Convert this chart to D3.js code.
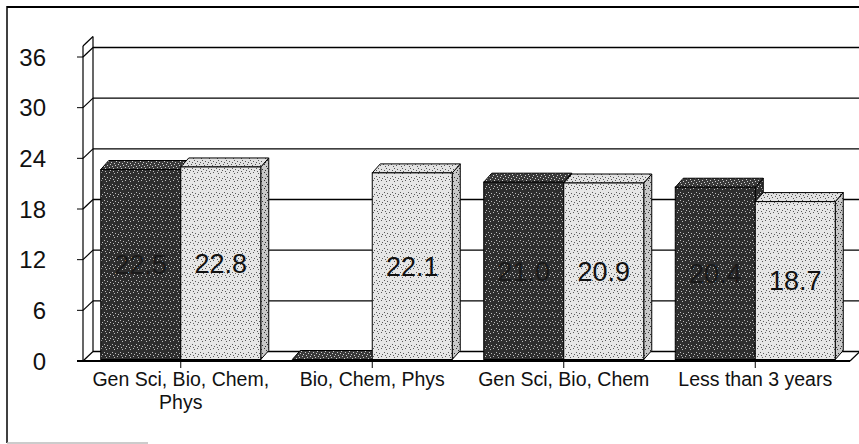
<!DOCTYPE html>
<html><head><meta charset="utf-8">
<script src="https://cdn.jsdelivr.net/npm/d3@7"></script>
<style>
html,body{margin:0;padding:0;background:#fff;}
svg{display:block;font-family:"Liberation Sans",Arial,sans-serif;}
</style></head>
<body>
<svg id="c" width="859" height="444"></svg>
<script>
const categories = ["Gen Sci, Bio, Chem, Phys", "Bio, Chem, Phys", "Gen Sci, Bio, Chem", "Less than 3 years"];
const seriesDark = [22.5, 0, 21.0, 20.4];
const seriesLight = [22.8, 22.1, 20.9, 18.7];
const yTicks = [0, 6, 12, 18, 24, 30, 36];

const svg = d3.select("#c");
const W = 859, H = 444;

// geometry
const wallDx = 10, wallDy = -9.5;
const barDx = 8, barDy = -9;
const axisX = 83;
const floorRight = 850;
const y = d3.scaleLinear().domain([0, 36]).range([361, 57]);
const x = d3.scaleBand().domain(categories).range([85, 851]).paddingInner(0).paddingOuter(0);
const barW = 80;
const yTop = 37.3;

// patterns (stipple)
const defs = svg.append("defs");
function stipple(id, base, dot, density, seed) {
  const size = 8;
  const p = defs.append("pattern").attr("id", id).attr("patternUnits", "userSpaceOnUse")
    .attr("width", size).attr("height", size);
  p.append("rect").attr("width", size).attr("height", size).attr("fill", base);
  const pts = [[0,0],[3,1],[6,2],[1,3],[5,4],[2,5],[7,6],[4,7],[0,6],[6,7],[2,2],[7,3],[4,4],[1,1],[5,6],[3,7]];
  pts.slice(0, density).forEach(([a,b]) => {
    p.append("rect").attr("x", (a + seed) % size).attr("y", b).attr("width", 1).attr("height", 1).attr("fill", dot);
  });
}
stipple("pDark", "#2e2e2e", "#bdbdbd", 6, 0);
stipple("pDarkTop", "#3a3a3a", "#d0d0d0", 8, 1);
stipple("pLight", "#e6e6e6", "#5a5a5a", 6, 0);
stipple("pLightTop", "#e2e2e2", "#555", 7, 2);
stipple("pLightSide", "#c8c8c8", "#333", 7, 3);

// frame
svg.append("line").attr("x1", 7).attr("y1", 7).attr("x2", W).attr("y2", 7).attr("stroke", "#000").attr("stroke-width", 2);
svg.append("line").attr("x1", 7).attr("y1", 6).attr("x2", 7).attr("y2", 443).attr("stroke", "#000").attr("stroke-width", 1.5);
svg.append("line").attr("x1", 7).attr("y1", 443).attr("x2", 148).attr("y2", 443).attr("stroke", "#bbb").attr("stroke-width", 1.5);

const g = svg.append("g");
const bx = axisX + wallDx;

// back wall gridlines
g.selectAll(".grid").data(yTicks).join("line")
  .attr("x1", bx).attr("x2", W)
  .attr("y1", d => y(d) + wallDy).attr("y2", d => y(d) + wallDy)
  .attr("stroke", "#000").attr("stroke-width", 1.3);

// left wall
g.append("line").attr("x1", axisX).attr("x2", axisX).attr("y1", y(0)).attr("y2", y(yTop)).attr("stroke", "#000").attr("stroke-width", 1.2);
g.append("line").attr("x1", bx).attr("x2", bx).attr("y1", y(0) + wallDy).attr("y2", y(yTop) + wallDy).attr("stroke", "#000").attr("stroke-width", 1.2);
g.append("line").attr("x1", axisX).attr("x2", bx).attr("y1", y(yTop)).attr("y2", y(yTop) + wallDy).attr("stroke", "#000").attr("stroke-width", 1.2);
g.selectAll(".diag").data(yTicks).join("line")
  .attr("x1", axisX).attr("x2", bx)
  .attr("y1", d => y(d)).attr("y2", d => y(d) + wallDy)
  .attr("stroke", "#000").attr("stroke-width", 1.2);
g.selectAll(".tk").data(yTicks).join("line")
  .attr("x1", axisX - 6).attr("x2", axisX)
  .attr("y1", d => y(d)).attr("y2", d => y(d))
  .attr("stroke", "#000").attr("stroke-width", 1);

// floor
g.append("line").attr("x1", axisX - 6).attr("x2", floorRight).attr("y1", y(0)).attr("y2", y(0)).attr("stroke", "#000").attr("stroke-width", 1.8);
g.append("line").attr("x1", floorRight).attr("x2", floorRight + wallDx).attr("y1", y(0)).attr("y2", y(0) + wallDy).attr("stroke", "#000").attr("stroke-width", 1.2);

// y tick labels
g.selectAll(".yl").data(yTicks).join("text")
  .attr("x", 46).attr("y", d => y(d)).attr("dy", "0.36em")
  .attr("text-anchor", "end").attr("font-size", 24).attr("fill", "#111")
  .text(d => d);

// bars
const base = y(0) - 1.5;
function drawBar(x0, v, front, top, side) {
  const yt = base - (y(0) - y(v));
  const bg = g.append("g");
  bg.append("path").attr("d", `M${x0 + barW},${base} L${x0 + barW + barDx},${base + barDy} L${x0 + barW + barDx},${yt + barDy} L${x0 + barW},${yt} Z`)
    .attr("fill", side).attr("stroke", "#000").attr("stroke-width", 1);
  bg.append("path").attr("d", `M${x0},${yt} L${x0 + barDx},${yt + barDy} L${x0 + barW + barDx},${yt + barDy} L${x0 + barW},${yt} Z`)
    .attr("fill", top).attr("stroke", "#000").attr("stroke-width", 1);
  if (v > 0) {
    bg.append("rect").attr("x", x0).attr("y", yt).attr("width", barW).attr("height", base - yt)
      .attr("fill", front).attr("stroke", "#000").attr("stroke-width", 1);
  }
}
categories.forEach((c, i) => {
  const cx = x(c) + x.bandwidth() / 2;
  drawBar(cx - barW, seriesDark[i], "url(#pDark)", "url(#pDarkTop)", "url(#pDark)");
  drawBar(cx, seriesLight[i], "url(#pLight)", "url(#pLightTop)", "url(#pLightSide)");
});

// value labels
function label(x0, v, col) {
  if (!(v > 0)) return;
  const yt = base - (y(0) - y(v));
  g.append("text").attr("x", x0 + barW / 2).attr("y", (yt + base) / 2).attr("dy", "0.36em")
    .attr("text-anchor", "middle").attr("font-size", 27).attr("fill", col)
    .text(v.toFixed(1));
}
categories.forEach((c, i) => {
  const cx = x(c) + x.bandwidth() / 2;
  label(cx - barW, seriesDark[i], "#1a1a1a");
  label(cx, seriesLight[i], "#111");
});

// category ticks
g.selectAll(".ct").data(categories).join("line")
  .attr("x1", d => x(d) + x.bandwidth() / 2).attr("x2", d => x(d) + x.bandwidth() / 2)
  .attr("y1", y(0)).attr("y2", y(0) + 7).attr("stroke", "#000").attr("stroke-width", 1);

// category labels with wrapping
const maxW = 188;
categories.forEach(c => {
  const cx = x(c) + x.bandwidth() / 2;
  const t = g.append("text").attr("x", cx).attr("y", 386).attr("text-anchor", "middle")
    .attr("font-size", 19.5).attr("fill", "#111");
  const words = c.split(" ");
  let line = [], lines = [];
  const probe = t.append("tspan");
  words.forEach(w => {
    line.push(w);
    probe.text(line.join(" "));
    if (probe.node().getComputedTextLength() > maxW && line.length > 1) {
      line.pop(); lines.push(line.join(" ")); line = [w];
    }
  });
  lines.push(line.join(" "));
  probe.remove();
  lines.forEach((l, k) => t.append("tspan").attr("x", cx).attr("dy", k === 0 ? 0 : 23).text(l));
});
</script>
</body></html>
